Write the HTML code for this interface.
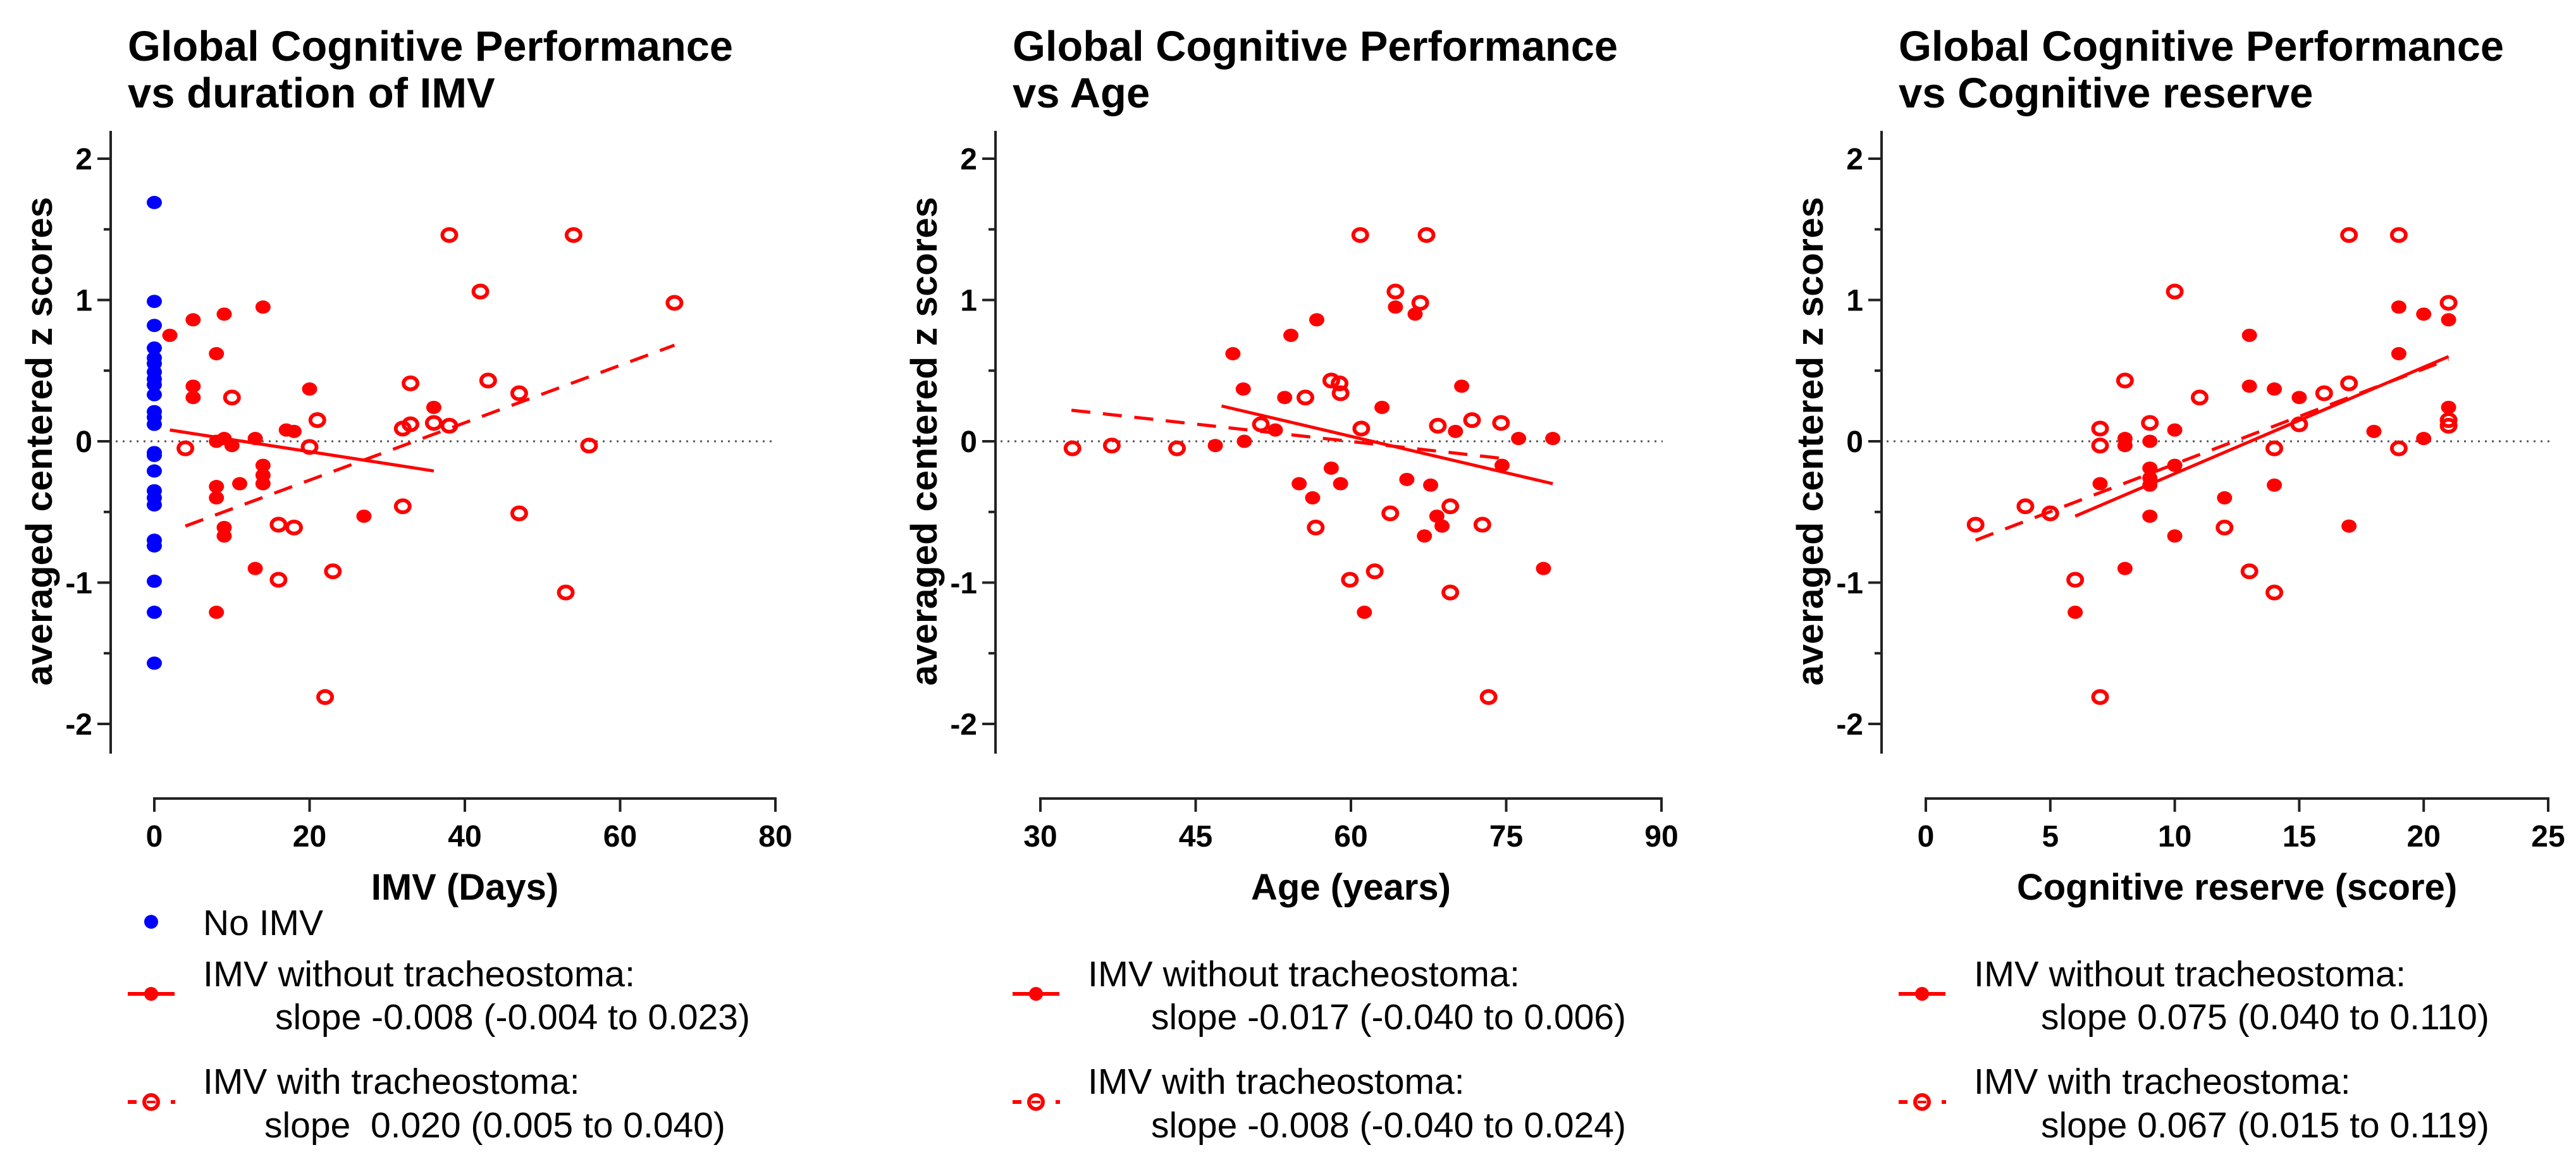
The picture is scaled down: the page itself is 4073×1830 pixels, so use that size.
<!DOCTYPE html>
<html><head><meta charset="utf-8"><style>
html,body{margin:0;padding:0;background:#fff;}
svg{display:block;}
text{font-family:"Liberation Sans",Arial,sans-serif;}
.pre{white-space:pre;}
</style></head><body>
<svg id="chart" width="4073" height="1830" viewBox="0 0 4073 1830" xmlns="http://www.w3.org/2000/svg"></svg>
<script>
// ---------- DATA ----------
// Panel 1: IMV days
const p1NoImvX = [0,0,0,0,0,0,0,0,0,0,0,0,0,0,0,0,0,0,0,0,0,0,0,0];
const p1NoImvY = [1.69,0.99,0.82,0.66,0.59,0.55,0.49,0.44,0.40,0.33,0.21,0.17,0.12,-0.08,-0.10,-0.21,-0.35,-0.40,-0.45,-0.70,-0.74,-0.99,-1.21,-1.57];
const p1FilledX = [2,5,9,14,8,5,5,20,8,9,10,13,17,18,36,14,14,14,11,8,8,9,9,27,13,8];
const p1FilledY = [0.75,0.86,0.90,0.95,0.62,0.39,0.31,0.37,0.0,0.02,-0.03,0.02,0.08,0.07,0.24,-0.17,-0.24,-0.30,-0.30,-0.32,-0.40,-0.61,-0.67,-0.53,-0.90,-1.21];
const p1OpenX = [4,10,21,20,16,18,16,23,22,32,32,33,33,36,38,38,42,43,47,47,53,54,56,67];
const p1OpenY = [-0.05,0.31,0.15,-0.04,-0.59,-0.61,-0.98,-0.92,-1.81,-0.46,0.09,0.12,0.41,0.13,0.11,1.46,1.06,0.43,0.34,-0.51,-1.07,1.46,-0.03,0.98];
const p1SolidFit = [[2,0.08],[36,-0.21]];
const p1DashFit = [[4,-0.60],[67,0.68]];
const p1XTicks = [0,20,40,60,80];
// Panel 2: Age
const p2FilledX = [46.9,48.6,49.6,49.7,52.7,53.6,54.2,55.0,56.3,56.7,58.1,59.0,61.3,63.0,64.3,65.4,66.2,67.1,67.7,68.3,68.8,70.1,70.7,74.6,76.2,78.6,79.5];
const p2FilledY = [-0.03,0.62,0.37,0.0,0.08,0.31,0.75,-0.30,-0.40,0.86,-0.19,-0.30,-1.21,0.24,0.95,-0.27,0.90,-0.67,-0.31,-0.53,-0.60,0.07,0.39,-0.17,0.02,-0.90,0.02];
const p2OpenX = [33.1,36.9,43.2,51.3,55.6,56.6,58.1,58.9,59.0,59.9,60.9,61.0,62.3,63.8,64.3,66.7,67.3,68.4,69.6,69.6,71.7,72.7,73.3,74.5];
const p2OpenY = [-0.05,-0.03,-0.05,0.12,0.31,-0.61,0.43,0.41,0.34,-0.98,1.46,0.09,-0.92,-0.51,1.06,0.98,1.46,0.11,-0.46,-1.07,0.15,-0.59,-1.81,0.13];
const p2SolidFit = [[47.5,0.25],[79.5,-0.30]];
const p2DashFit = [[33,0.22],[74.5,-0.12]];
const p2XTicks = [30,45,60,75,90];
// Panel 3: Cognitive reserve
const p3FilledX = [6,7,8,8,8,9,9,9,9,9,10,10,10,12,13,13,14,14,15,17,18,19,19,20,20,21,21];
const p3FilledY = [-1.21,-0.30,0.02,-0.03,-0.90,0.0,-0.19,-0.26,-0.31,-0.53,0.08,-0.17,-0.67,-0.40,0.75,0.39,0.37,-0.31,0.31,-0.60,0.07,0.95,0.62,0.90,0.02,0.86,0.24];
const p3OpenX = [2,4,5,6,7,7,7,8,9,10,11,12,13,14,14,15,16,17,17,19,19,21,21,21];
const p3OpenY = [-0.59,-0.46,-0.51,-0.98,0.09,-0.03,-1.81,0.43,0.13,1.06,0.31,-0.61,-0.92,-0.05,-1.07,0.12,0.34,0.41,1.46,1.46,-0.05,0.98,0.15,0.11];
const p3SolidFit = [[6,-0.53],[21,0.60]];
const p3DashFit = [[2,-0.70],[21,0.58]];
const p3XTicks = [0,5,10,15,20,25];
const yTicks = [-2,-1,0,1,2];
const yMinorTicks = [-1.5,-0.5,0.5,1.5];

// ---------- DRAW ----------
const NS = "http://www.w3.org/2000/svg";
const svg = document.getElementById('chart');
function mk(tag, attrs, parent){
  const e = document.createElementNS(NS, tag);
  for (const k in attrs) e.setAttribute(k, attrs[k]);
  (parent||svg).appendChild(e);
  return e;
}
const RED = "#ff0000", BLUE = "#0000ff";
const Y0 = 698, YU = 223.5;
function yScale(v){ return Y0 - v*YU; }

function panel(cfg){
  const g = mk('g', {});
  
  
  const ax = cfg.axisX;
  const xs = v => cfg.x0 + (v - cfg.xmin)/(cfg.xmax - cfg.xmin)*(cfg.x1 - cfg.x0);
  const t1 = mk('text', {x: ax+27, y: 96, 'font-size': 67, 'font-weight': 'bold', textLength: 957, lengthAdjust: 'spacingAndGlyphs'}, g);
  t1.textContent = "Global Cognitive Performance";
  
  
  const t2 = mk('text', {x: ax+27, y: 170, 'font-size': 67, 'font-weight': 'bold'}, g);
  t2.textContent = cfg.title2;
  
  
  const yl = mk('line', {x1: ax, y1: 207, x2: ax, y2: 1192, stroke: '#222', 'stroke-width': 4}, g);
  
  
  yTicks.forEach(v => {
    const tk = mk('line', {x1: ax-21, y1: yScale(v), x2: ax, y2: yScale(v), stroke: '#222', 'stroke-width': 4}, g);
    
    
    const tl = mk('text', {x: ax-29, y: yScale(v)+17, 'font-size': 48, 'font-weight': 'bold', 'text-anchor': 'end'}, g);
    tl.textContent = String(v);
    
    
  });
  yMinorTicks.forEach(v => {
    const tk = mk('line', {x1: ax-11, y1: yScale(v), x2: ax, y2: yScale(v), stroke: '#222', 'stroke-width': 4}, g);
    
    
  });
  const yt = mk('text', {x: 0, y: 0, 'font-size': 58, 'font-weight': 'bold', 'text-anchor': 'middle', transform: `translate(${ax-93},${Y0}) rotate(-90)`, textLength: 773, lengthAdjust: 'spacingAndGlyphs'}, g);
  yt.textContent = "averaged centered z scores";
  
  
  const xl = mk('line', {x1: cfg.x0-2, y1: 1263, x2: cfg.x1+2, y2: 1263, stroke: '#222', 'stroke-width': 4}, g);
  
  
  cfg.xticks.forEach(v => {
    const tk = mk('line', {x1: xs(v), y1: 1263, x2: xs(v), y2: 1284, stroke: '#222', 'stroke-width': 4}, g);
    
    
    const tl = mk('text', {x: xs(v), y: 1339, 'font-size': 48, 'font-weight': 'bold', 'text-anchor': 'middle'}, g);
    tl.textContent = String(v);
    
    
  });
  const xt = mk('text', {x: (cfg.x0+cfg.x1)/2, y: 1423, 'font-size': 58, 'font-weight': 'bold', 'text-anchor': 'middle'}, g);
  xt.textContent = cfg.xtitle;
  
  
  const zl = mk('line', {x1: ax+8, y1: yScale(0), x2: cfg.x1+2, y2: yScale(0), stroke: '#555', 'stroke-width': 3, 'stroke-dasharray': '3 8'}, g);
  
  
  if (cfg.blueX) cfg.blueX.forEach((v,i) => {
    const c = mk('ellipse', {cx: xs(v), cy: yScale(cfg.blueY[i]), rx: 12, ry: 10.5, fill: BLUE}, g);
    
    
  });
  cfg.fx.forEach((v,i) => {
    const c = mk('ellipse', {cx: xs(v), cy: yScale(cfg.fy[i]), rx: 12, ry: 10.5, fill: RED}, g);
    
    
  });
  cfg.ox.forEach((v,i) => {
    const c = mk('ellipse', {cx: xs(v), cy: yScale(cfg.oy[i]), rx: 11, ry: 9.5, fill: 'none', stroke: RED, 'stroke-width': 6}, g);
    
    
  });
  const s = mk('line', {x1: xs(cfg.sfit[0][0]), y1: yScale(cfg.sfit[0][1]), x2: xs(cfg.sfit[1][0]), y2: yScale(cfg.sfit[1][1]), stroke: RED, 'stroke-width': 5}, g);
  
  
  const d = mk('line', {x1: xs(cfg.dfit[0][0]), y1: yScale(cfg.dfit[0][1]), x2: xs(cfg.dfit[1][0]), y2: yScale(cfg.dfit[1][1]), stroke: RED, 'stroke-width': 5, 'stroke-dasharray': '30 20'}, g);
  
  
  const lg = mk('g', {}, g);
  
  
  const lx = ax+27, tx = ax+146;
  if (cfg.blueX){
    const b = mk('ellipse', {cx: lx+37, cy: 1458, rx: 11, ry: 11, fill: BLUE}, lg);
    
    
    const bt = mk('text', {x: tx, y: 1479, 'font-size': 57}, lg);
    bt.textContent = "No IMV";
    
    
  }
  const l1 = mk('line', {x1: lx, y1: 1572, x2: lx+74, y2: 1572, stroke: RED, 'stroke-width': 6}, lg);
  
  
  const m1 = mk('circle', {cx: lx+37, cy: 1572, r: 11, fill: RED}, lg);
  
  
  const a1 = mk('text', {x: tx, y: 1560, 'font-size': 57, textLength: 683, lengthAdjust: 'spacingAndGlyphs'}, lg);
  a1.textContent = "IMV without tracheostoma:";
  
  
  const a2 = mk('text', {x: ax+cfg.slopeDx, y: 1628, 'font-size': 57, class: 'pre'}, lg);
  a2.textContent = cfg.slope1;
  
  
  const l2a = mk('line', {x1: lx, y1: 1743, x2: lx+14, y2: 1743, stroke: RED, 'stroke-width': 6}, lg);
  
  
  const l2b = mk('line', {x1: lx+68, y1: 1743, x2: lx+75, y2: 1743, stroke: RED, 'stroke-width': 6}, lg);
  
  
  const m2 = mk('circle', {cx: lx+37, cy: 1743, r: 11, fill: 'none', stroke: RED, 'stroke-width': 6}, lg);
  
  
  const m2c = mk('line', {x1: lx+30, y1: 1743, x2: lx+44, y2: 1743, stroke: RED, 'stroke-width': 4}, lg);
  
  
  const b1 = mk('text', {x: tx, y: 1730, 'font-size': 57}, lg);
  b1.textContent = "IMV with tracheostoma:";
  
  
  const b2 = mk('text', {x: ax+cfg.slopeDx2, y: 1799, 'font-size': 57, class: 'pre'}, lg);
  b2.textContent = cfg.slope2;
  
  
}

panel({name:'panel-imv-duration', axisX:175, x0:244, x1:1226, xmin:0, xmax:80, xticks:p1XTicks,
  title2:"vs duration of IMV", xtitle:"IMV (Days)",
  blueX:p1NoImvX, blueY:p1NoImvY, fx:p1FilledX, fy:p1FilledY, ox:p1OpenX, oy:p1OpenY,
  sfit:p1SolidFit, dfit:p1DashFit,
  slope1:"slope -0.008 (-0.004 to 0.023)", slope2:"slope  0.020 (0.005 to 0.040)", slopeDx:260, slopeDx2:243});
panel({name:'panel-age', axisX:1574, x0:1645, x1:2627, xmin:30, xmax:90, xticks:p2XTicks,
  title2:"vs Age", xtitle:"Age (years)",
  fx:p2FilledX, fy:p2FilledY, ox:p2OpenX, oy:p2OpenY,
  sfit:p2SolidFit, dfit:p2DashFit,
  slope1:"slope -0.017 (-0.040 to 0.006)", slope2:"slope -0.008 (-0.040 to 0.024)", slopeDx:246, slopeDx2:246});
panel({name:'panel-cognitive-reserve', axisX:2975, x0:3045, x1:4029, xmin:0, xmax:25, xticks:p3XTicks,
  title2:"vs Cognitive reserve", xtitle:"Cognitive reserve (score)",
  fx:p3FilledX, fy:p3FilledY, ox:p3OpenX, oy:p3OpenY,
  sfit:p3SolidFit, dfit:p3DashFit,
  slope1:"slope 0.075 (0.040 to 0.110)", slope2:"slope 0.067 (0.015 to 0.119)", slopeDx:252, slopeDx2:252});
</script>
</body></html>
